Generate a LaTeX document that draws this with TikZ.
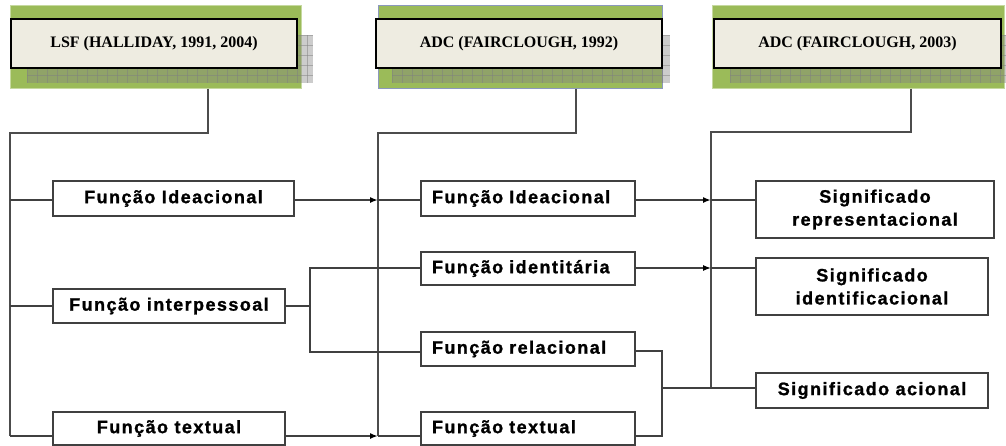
\documentclass[tikz,border=0pt]{standalone}
\usepackage{fontspec}
\usetikzlibrary{arrows.meta}
\newfontfamily\funcfont[LetterSpace=8, BoldFeatures={FakeBold=1.2}]{Liberation Sans}
\newfontfamily\headfont{Liberation Serif}
\definecolor{hgreen}{HTML}{9BBB59}
\definecolor{hgreenedge}{HTML}{C6D9A0}
\definecolor{cream}{HTML}{EEECE1}
\definecolor{lin}{HTML}{404040}
\begin{document}
\begin{tikzpicture}[x=1pt,y=-1pt,
  funcbox/.style={draw=lin, line width=1.4pt, rectangle, inner sep=0pt, align=center,
    font=\funcfont\bfseries\fontsize{18}{23}\selectfont},
  midbox/.style={funcbox, inner xsep=11pt, text width=192pt, align=left, minimum width=214pt},
  headbox/.style={draw=black, line width=1.8pt, fill=cream, inner sep=0pt,
    font=\headfont\bfseries\fontsize{16}{19}\selectfont},
  greenband/.style={fill=hgreen, draw=hgreenedge, line width=1pt, inner sep=0pt},
  conn/.style={draw=lin, line width=1.7pt},
  thinconn/.style={draw=lin, line width=1.25pt},
  stem/.style={draw=black!70, line width=2pt},
  tip/.style={-{Latex[length=8pt,width=6pt,color=black]}}
]
\path[use as bounding box] (0,0) rectangle (1006,445);
\clip (0,0) rectangle (1006,445);

% ---------- header 1
\node[greenband, minimum width=291pt, minimum height=83pt] (g1) at (155.5,46.5) {};
\fill[gray, opacity=0.4] (27,35) rectangle (313,83);
\foreach \x in {27,37,...,313} \draw[black!50, opacity=0.5, line width=0.6pt] (\x,35) -- (\x,83);
\foreach \y in {35,45,...,83} \draw[black!50, opacity=0.5, line width=0.6pt] (27,\y) -- (313,\y);
\node[headbox, minimum width=286pt, minimum height=49pt] (h1) at (154,43.5) {LSF (HALLIDAY, 1991, 2004)};

% ---------- header 2
\node[greenband, draw=blue!30!hgreenedge, minimum width=284pt, minimum height=83pt] (g2) at (520,46.5) {};
\fill[gray, opacity=0.4] (392,35) rectangle (670,83);
\foreach \x in {392,402,...,670} \draw[black!50, opacity=0.5, line width=0.6pt] (\x,35) -- (\x,83);
\foreach \y in {35,45,...,83} \draw[black!50, opacity=0.5, line width=0.6pt] (392,\y) -- (670,\y);
\node[headbox, minimum width=286pt, minimum height=49pt] (h2) at (519,43.5) {ADC (FAIRCLOUGH, 1992)};

% ---------- header 3
\node[greenband, minimum width=292pt, minimum height=83pt] (g3) at (858,46.5) {};
\fill[gray, opacity=0.4] (730,35) rectangle (1010,83);
\foreach \x in {730,740,...,1010} \draw[black!50, opacity=0.5, line width=0.6pt] (\x,35) -- (\x,83);
\foreach \y in {35,45,...,83} \draw[black!50, opacity=0.5, line width=0.6pt] (730,\y) -- (1010,\y);
\node[headbox, minimum width=287pt, minimum height=49pt] (h3) at (857.5,43.5) {ADC (FAIRCLOUGH, 2003)};

% ---------- left column
\node[funcbox, minimum width=241pt, minimum height=35pt] (li) at (173.5,198.5) {Função Ideacional};
\node[funcbox, minimum width=232pt, minimum height=34pt] (lp) at (169,306) {Função interpessoal};
\node[funcbox, minimum width=232pt, minimum height=33pt] (lt) at (169,428.5) {Função textual};

% ---------- middle column
\node[midbox, minimum height=35pt] (mi) at (528,198.5) {Função Ideacional};
\node[midbox, minimum height=33pt] (mid) at (528,268.5) {Função identitária};
\node[midbox, minimum height=34pt] (mr) at (528,349) {Função relacional};
\node[midbox, minimum height=33pt] (mt) at (528,428.5) {Função textual};

% ---------- right column
\node[funcbox, minimum width=238pt, minimum height=57pt] (r1) at (875,209.5) {Significado\\representacional};
\node[funcbox, minimum width=232pt, minimum height=57pt] (r2) at (872,286.5) {Significado\\identificacional};
\node[funcbox, minimum width=232pt, minimum height=35pt] (r3) at (872,390.5) {Significado acional};

% ---------- junction coordinates
\coordinate (s1) at (208,133);
\coordinate (s2) at (576,133);
\coordinate (s3) at (911,132);
\coordinate (a1) at (10,133);
\coordinate (a2) at (10,200);
\coordinate (a3) at (10,306);
\coordinate (a4) at (10,436);
\coordinate (b1) at (378,133);
\coordinate (b2) at (378,200);
\coordinate (b3) at (378,436);
\coordinate (c1) at (711,132);
\coordinate (c2) at (711,200);
\coordinate (c3) at (711,268);
\coordinate (c4) at (711,388);
\coordinate (p1) at (310,268);
\coordinate (p2) at (310,306);
\coordinate (p3) at (310,352);
\coordinate (q1) at (662,351);
\coordinate (q2) at (662,388);
\coordinate (q3) at (662,436);

% ---------- header stems and spines
\draw[stem] (g1.south -| s1) -- (s1) -- (a1) -- (a4);
\draw[stem] (g2.south -| s2) -- (s2) -- (b1) -- (b3);
\draw[stem] (g3.south -| s3) -- (s3) -- (c1) -- (c4);

% ---------- left spine branches
\draw[conn] (a2) -- (li.west |- a2);
\draw[thinconn] (a3) -- (lp.west |- a3);
\draw[conn] (a4) -- (lt.west |- a4);

% ---------- left to middle
\draw[conn, tip] (li.east |- b2) -- (b2);
\draw[conn] (b2) -- (mi.west |- b2);
\draw[thinconn] (lp.east |- p2) -- (p2);
\draw[thinconn] (mid.west |- p1) -- (p1) -- (p3) -- (mr.west |- p3);
\draw[conn, tip] (lt.east |- b3) -- (b3);
\draw[conn] (b3) -- (mt.west |- b3);

% ---------- middle to right
\draw[conn, tip] (mi.east |- c2) -- (c2);
\draw[conn] (c2) -- (r1.west |- c2);
\draw[thinconn, tip] (mid.east |- c3) -- (c3);
\draw[thinconn] (c3) -- (r2.west |- c3);
\draw[thinconn] (mr.east |- q1) -- (q1) -- (q3) -- (mt.east |- q3);
\draw[thinconn] (q2) -- (r3.west |- q2);
\end{tikzpicture}
\end{document}
